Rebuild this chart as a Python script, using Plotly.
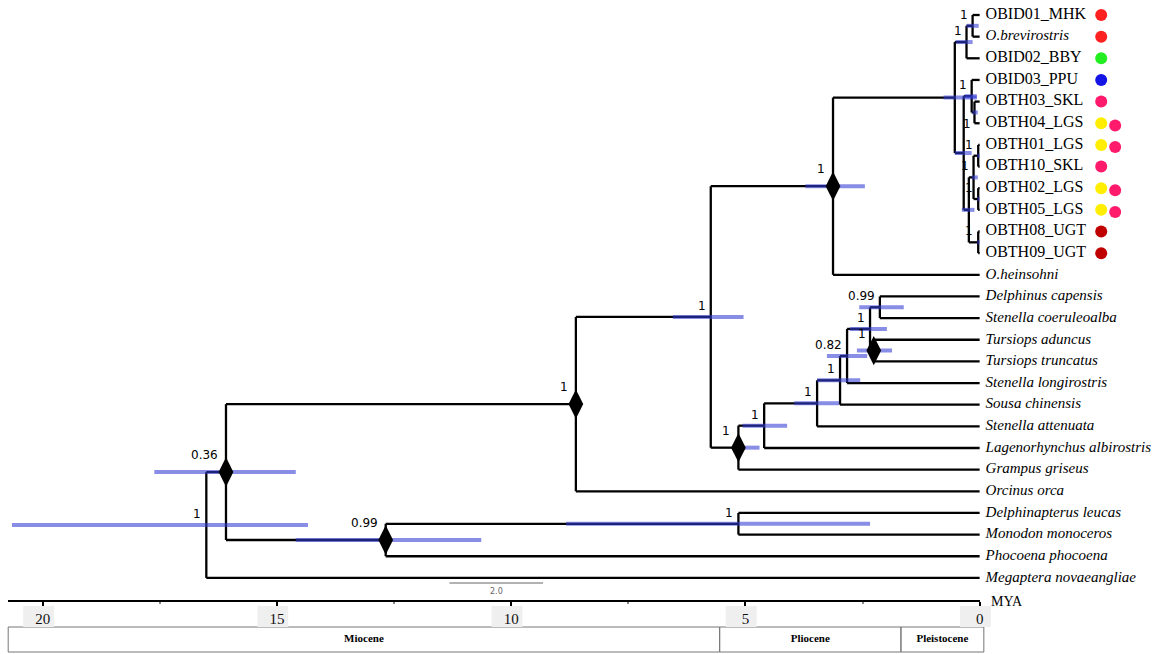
import plotly.graph_objects as go

# ---------------- data ----------------
tips = ["OBID01_MHK", "O.brevirostris", "OBID02_BBY", "OBID03_PPU", "OBTH03_SKL",
        "OBTH04_LGS", "OBTH01_LGS", "OBTH10_SKL", "OBTH02_LGS", "OBTH05_LGS",
        "OBTH08_UGT", "OBTH09_UGT", "O.heinsohni", "Delphinus capensis",
        "Stenella coeruleoalba", "Tursiops aduncus", "Tursiops truncatus",
        "Stenella longirostris", "Sousa chinensis", "Stenella attenuata",
        "Lagenorhynchus albirostris", "Grampus griseus", "Orcinus orca",
        "Delphinapterus leucas", "Monodon monoceros", "Phocoena phocoena",
        "Megaptera novaeangliae"]

node_names = ["n_mb", "n_H", "n_0304", "n_J", "n_0110", "n_0205", "n_M", "n_N",
              "n_L", "n_K", "n_G", "n_E", "n_T", "n_U", "n_S", "n_R", "n_Q",
              "n_P", "n_O", "n_F", "n_D", "n_B", "n_V", "n_C", "n_A", "root"]
node_children = [["OBID01_MHK", "O.brevirostris"], ["n_mb", "OBID02_BBY"],
                 ["OBTH03_SKL", "OBTH04_LGS"], ["OBID03_PPU", "n_0304"],
                 ["OBTH01_LGS", "OBTH10_SKL"], ["OBTH02_LGS", "OBTH05_LGS"],
                 ["n_0110", "n_0205"], ["OBTH08_UGT", "OBTH09_UGT"],
                 ["n_M", "n_N"], ["n_J", "n_L"], ["n_H", "n_K"],
                 ["n_G", "O.heinsohni"],
                 ["Delphinus capensis", "Stenella coeruleoalba"],
                 ["Tursiops aduncus", "Tursiops truncatus"], ["n_T", "n_U"],
                 ["n_S", "Stenella longirostris"], ["n_R", "Sousa chinensis"],
                 ["n_Q", "Stenella attenuata"], ["n_P", "Lagenorhynchus albirostris"],
                 ["n_O", "Grampus griseus"], ["n_E", "n_F"], ["n_D", "Orcinus orca"],
                 ["Delphinapterus leucas", "Monodon monoceros"],
                 ["n_V", "Phocoena phocoena"], ["n_B", "n_C"],
                 ["n_A", "Megaptera novaeangliae"]]
node_age = [0.15, 0.28, 0.11, 0.17, 0.03, 0.03, 0.13, 0.03, 0.23, 0.34, 0.53,
            3.13, 2.13, 2.26, 2.34, 2.83, 2.98, 3.47, 4.60, 5.15, 5.74, 8.62,
            5.15, 12.68, 16.09, 16.51]
node_support = ["1", "1", "1", "1", "1", "1", "1", "1", "", "", "",
                "1", "0.99", "1", "1", "0.82", "1", "1", "1", "1", "1", "1",
                "1", "0.99", "0.36", "1"]
hpd_old = [0.28, 0.51, 0.15, 0.32, 0.05, 0.05, 0.17, 0.05, 0.38, 0.53, 0.77,
           3.72, 2.57, 2.62, 2.77, 3.26, 3.47, 3.96, 5.06, 5.28, 6.55, None,
           8.83, 14.60, 17.62, 20.66]
hpd_young = [0.02, 0.15, 0.04, 0.06, 0.0, 0.0, 0.04, 0.0, 0.11, 0.17, 0.06,
             2.45, 1.62, 1.87, 1.98, 2.40, 2.55, 3.00, 4.11, 4.70, 5.04, None,
             2.34, 10.64, 14.60, 14.34]
diamond_nodes = ["n_A", "n_B", "n_E", "n_F", "n_C", "n_U"]

dot1_colors = ["#ff2020", "#ff2020", "#22ee22", "#1414e6", "#ff1a6b", "#ffee00",
               "#ffee00", "#ff1a6b", "#ffee00", "#ffee00", "#c00000", "#c00000"]
dot2_colors = [None, None, None, None, None, "#ff1a6b", "#ff1a6b", None,
               "#ff1a6b", "#ff1a6b", None, None]

tick_vals = [20, 15, 10, 5, 0]
minor_tick_vals = [17.5, 12.5, 7.5, 2.5]
epoch_names = ["Miocene", "Pliocene", "Pleistocene"]
epoch_old = [20.74, 5.55, 1.68]
epoch_young = [5.55, 1.68, -0.09]
scale_bar_length = 2.0
scale_bar_center = 10.32

# ---------------- geometry (layout only) ----------------
W, H = 1166, 654
PX_PER_MY = 47.0
X_ZERO_PX = 983.0
TIP_Y0_PX, TIP_STEP_PX = 15.0, 21.65
AXIS_Y_PX = 601
x_range = [X_ZERO_PX / PX_PER_MY, (X_ZERO_PX - W) / PX_PER_MY]
y_range = [(H - TIP_Y0_PX) / TIP_STEP_PX, -TIP_Y0_PX / TIP_STEP_PX]


def px_to_index(py):
    return (py - TIP_Y0_PX) / TIP_STEP_PX


def px_to_age(px):
    return (X_ZERO_PX - px) / PX_PER_MY


pos = {}
for i, t in enumerate(tips):
    pos[t] = (0.0, float(i))
for name, ch, age in zip(node_names, node_children, node_age):
    ys = [pos[c][1] for c in ch]
    pos[name] = (age, (min(ys) + max(ys)) / 2.0)

# tree branch lines
lx, ly = [], []
for name, ch in zip(node_names, node_children):
    ax, ay = pos[name]
    ys = [pos[c][1] for c in ch]
    lx += [ax, ax, None]
    ly += [min(ys), max(ys), None]
    for c in ch:
        cx, cy = pos[c]
        lx += [ax, cx, None]
        ly += [cy, cy, None]

fig = go.Figure()
fig.add_trace(go.Scatter(x=lx, y=ly, mode="lines",
                         line=dict(color="black", width=2.3), hoverinfo="skip"))

# HPD bars
bx, by = [], []
for name, o, yg in zip(node_names, hpd_old, hpd_young):
    if o is None:
        continue
    bx += [o, yg, None]
    by += [pos[name][1], pos[name][1], None]
fig.add_trace(go.Scatter(x=bx, y=by, mode="lines",
                         line=dict(color="rgba(50,58,210,0.58)", width=4),
                         hoverinfo="skip"))

# diamonds
fig.add_trace(go.Scatter(x=[pos[n][0] for n in diamond_nodes],
                         y=[pos[n][1] for n in diamond_nodes], mode="markers",
                         marker=dict(symbol="diamond-tall", size=21, color="black"),
                         hoverinfo="skip"))

# tip labels
tip_text = []
for t in tips:
    if t.startswith("OB"):
        tip_text.append("<span style='font-size:16px'>" + t + "</span>")
    else:
        tip_text.append("<i>" + t + "</i>")
label_x = px_to_age(989)
fig.add_trace(go.Scatter(x=[label_x] * len(tips), y=[pos[t][1] for t in tips],
                         mode="text", text=tip_text, textposition="middle right",
                         textfont=dict(family="Liberation Serif", size=15, color="black"),
                         cliponaxis=False, hoverinfo="skip"))

# colored dots
d1x, d1y, d1c, d2x, d2y, d2c = [], [], [], [], [], []
for i, (c1, c2) in enumerate(zip(dot1_colors, dot2_colors)):
    if c1:
        d1x.append(px_to_age(1105)); d1y.append(i); d1c.append(c1)
    if c2:
        d2x.append(px_to_age(1119)); d2y.append(i + 0.1); d2c.append(c2)
fig.add_trace(go.Scatter(x=d1x + d2x, y=d1y + d2y, mode="markers",
                         marker=dict(size=12, color=d1c + d2c, line=dict(width=0)),
                         cliponaxis=False, hoverinfo="skip"))

# support labels
for name, s in zip(node_names, node_support):
    if not s:
        continue
    x, y = pos[name]
    big = name in diamond_nodes
    if name == "n_0304":
        fig.add_annotation(x=x, y=y, text=s, showarrow=False, xanchor="right",
                           yanchor="top", xshift=-1, yshift=-3,
                           font=dict(family="DejaVu Sans", size=12, color="#000"))
        continue
    fig.add_annotation(x=x, y=y, text=s, showarrow=False, xanchor="right",
                       yanchor="bottom", xshift=-6 if big else -3,
                       yshift=8 if big else 2,
                       font=dict(family="DejaVu Sans", size=12, color="#000"))

# scale bar
sb_y = px_to_index(583)
fig.add_trace(go.Scatter(x=[scale_bar_center + scale_bar_length / 2,
                            scale_bar_center - scale_bar_length / 2],
                         y=[sb_y, sb_y], mode="lines",
                         line=dict(color="#666", width=1), hoverinfo="skip"))
fig.add_annotation(x=scale_bar_center, y=sb_y, text=f"{scale_bar_length:.1f}",
                   showarrow=False, yanchor="top", yshift=-2,
                   font=dict(family="DejaVu Sans", size=8, color="#666"))

# geological time scale boxes
box_top, box_bot = px_to_index(627), px_to_index(652)
for nm, o, yg in zip(epoch_names, epoch_old, epoch_young):
    fig.add_shape(type="rect", xref="x", yref="y", x0=o, x1=yg, y0=box_top,
                  y1=box_bot, line=dict(color="#777", width=1),
                  fillcolor="rgba(0,0,0,0)", layer="below")
fig.add_trace(go.Scatter(x=[(o + yg) / 2 for o, yg in zip(epoch_old, epoch_young)],
                         y=[(box_top + box_bot) / 2] * len(epoch_names),
                         mode="text", text=["<b>" + n + "</b>" for n in epoch_names],
                         textfont=dict(family="Liberation Serif", size=11, color="black"),
                         xaxis="x2", yaxis="y", cliponaxis=False, hoverinfo="skip"))

# grey tick label boxes
for v in tick_vals:
    fig.add_shape(type="rect", xref="x", yref="y", x0=v + 0.42, x1=v - 0.24,
                  y0=px_to_index(606), y1=px_to_index(627), line=dict(width=0),
                  fillcolor="#efefef", layer="below")

# MYA label
fig.add_annotation(x=px_to_age(992), y=px_to_index(AXIS_Y_PX), text="MYA",
                   showarrow=False, xanchor="left", yanchor="middle",
                   font=dict(family="Liberation Serif", size=14, color="black"))

fig.update_layout(
    width=W, height=H, margin=dict(l=0, r=0, t=0, b=0),
    plot_bgcolor="rgba(0,0,0,0)", paper_bgcolor="white", showlegend=False,
    xaxis=dict(range=x_range, visible=False, domain=[0, 1], fixedrange=True),
    yaxis=dict(range=y_range, visible=False, domain=[0, 1], fixedrange=True),
    xaxis2=dict(domain=[8 / W, X_ZERO_PX / W],
                range=[(X_ZERO_PX - 8) / PX_PER_MY, 0],
                anchor="free", position=(H - AXIS_Y_PX) / H,
                showline=True, linecolor="black", linewidth=2,
                tickmode="array", tickvals=tick_vals,
                ticktext=[str(v) for v in tick_vals],
                ticks="outside", ticklen=4, tickwidth=2, tickcolor="black",
                showgrid=False, zeroline=False,
                tickfont=dict(family="Liberation Serif", size=15, color="#111"),
                minor=dict(tickvals=minor_tick_vals, ticks="outside", ticklen=2,
                           tickwidth=2, tickcolor="#888", showgrid=False),
                fixedrange=True),
)

fig.write_html("out.html", config={"displayModeBar": False},
               post_script="document.body.style.margin='0';")
